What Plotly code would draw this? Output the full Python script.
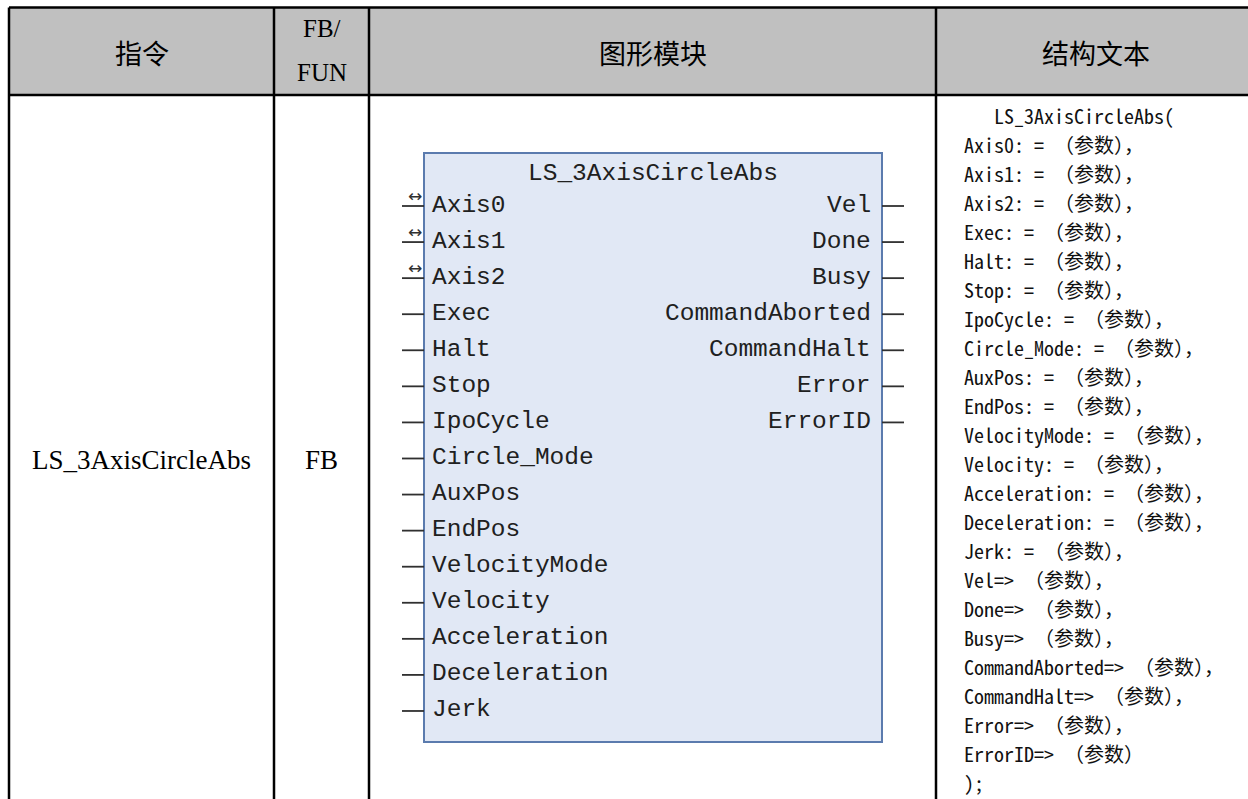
import plotly.graph_objects as go

# ---------------- data ----------------
header_labels = ["指令", "FB/", "FUN", "图形模块", "结构文本"]
instruction_name = "LS_3AxisCircleAbs"
instruction_type = "FB"
block_title = "LS_3AxisCircleAbs"
input_pins = ["Axis0", "Axis1", "Axis2", "Exec", "Halt", "Stop", "IpoCycle",
              "Circle_Mode", "AuxPos", "EndPos", "VelocityMode", "Velocity",
              "Acceleration", "Deceleration", "Jerk"]
inout_pins = ["Axis0", "Axis1", "Axis2"]
output_pins = ["Vel", "Done", "Busy", "CommandAborted", "CommandHalt", "Error", "ErrorID"]
param_word = "（参数）"

# ---------------- layout constants ----------------
W, H = 1248, 799
col_x = [9, 274, 369, 936, 1256]
top_y, head_y = 7.5, 95
box = dict(x0=424, x1=882, y0=153, y1=742)
pin_y0, pin_dy = 205, 36.07
st_x, st_x_first, st_y0, st_dy = 962, 992, 115, 29.04

CJK_HEAD = "Noto Sans CJK SC"
SERIF = "Liberation Serif"
MONO = "Liberation Mono"
ST_FONT = "Noto Sans Mono CJK SC, Liberation Mono, Noto Sans CJK SC"

fig = go.Figure()
shapes = []
ann = []

# header background
shapes.append(dict(type="rect", x0=col_x[0], x1=W + 20, y0=top_y, y1=head_y,
                   fillcolor="#C0C0C0", line=dict(width=0), layer="below"))
# table lines
shapes.append(dict(type="line", x0=col_x[0], x1=W + 20, y0=top_y, y1=top_y,
                   line=dict(color="black", width=2.5)))
shapes.append(dict(type="line", x0=col_x[0], x1=W + 20, y0=head_y, y1=head_y,
                   line=dict(color="black", width=2.5)))
for cx in col_x:
    shapes.append(dict(type="line", x0=cx, x1=cx, y0=top_y, y1=H + 20,
                       line=dict(color="black", width=2.5)))

# header texts
centers = [(col_x[i] + col_x[i + 1]) / 2 for i in range(4)]
ann.append(dict(x=centers[0], y=52, text=header_labels[0], xanchor="center", yanchor="middle",
                font=dict(family=CJK_HEAD, size=27, color="black")))
ann.append(dict(x=centers[1], y=28, text=header_labels[1], xanchor="center", yanchor="middle",
                font=dict(family=SERIF, size=25, color="black")))
ann.append(dict(x=centers[1], y=72, text=header_labels[2], xanchor="center", yanchor="middle",
                font=dict(family=SERIF, size=25, color="black")))
ann.append(dict(x=centers[2], y=52, text=header_labels[3], xanchor="center", yanchor="middle",
                font=dict(family=CJK_HEAD, size=27, color="black")))
ann.append(dict(x=1096, y=52, text=header_labels[4], xanchor="center", yanchor="middle",
                font=dict(family=CJK_HEAD, size=27, color="black")))

# body cells
ann.append(dict(x=centers[0], y=460, text=instruction_name, xanchor="center", yanchor="middle",
                font=dict(family=SERIF, size=27, color="black")))
ann.append(dict(x=centers[1], y=460, text=instruction_type, xanchor="center", yanchor="middle",
                font=dict(family=SERIF, size=27, color="black")))

# function block
shapes.append(dict(type="rect", fillcolor="#E1E8F5", line=dict(color="#5B7BAE", width=2), **box))
ann.append(dict(x=(box["x0"] + box["x1"]) / 2, y=173, text=block_title, xanchor="center",
                yanchor="middle", font=dict(family=MONO, size=24.5, color="#202020")))
for i, name in enumerate(input_pins):
    y = pin_y0 + pin_dy * i
    shapes.append(dict(type="line", x0=box["x0"] - 22, x1=box["x0"], y0=y + 1, y1=y + 1,
                       line=dict(color="#303030", width=1.8)))
    if name in inout_pins:
        ann.append(dict(x=box["x0"] - 9, y=y - 9, text="↔", xanchor="center", yanchor="middle",
                        font=dict(family="DejaVu Sans", size=17, color="#303030")))
    ann.append(dict(x=box["x0"] + 6, y=y, text=name, xanchor="left", yanchor="middle",
                    font=dict(family=MONO, size=24.5, color="#202020")))
for i, name in enumerate(output_pins):
    y = pin_y0 + pin_dy * i
    shapes.append(dict(type="line", x0=box["x1"], x1=box["x1"] + 22, y0=y + 1, y1=y + 1,
                       line=dict(color="#303030", width=1.8)))
    ann.append(dict(x=box["x1"] - 9, y=y, text=name, xanchor="right", yanchor="middle",
                    font=dict(family=MONO, size=24.5, color="#202020")))

# structured text
st_lines = [block_title + "("]
for name in input_pins:
    st_lines.append(f"{name}: = {param_word}，")
for j, name in enumerate(output_pins):
    tail = "，" if j < len(output_pins) - 1 else ""
    st_lines.append(f"{name}=> {param_word}{tail}")
st_lines.append(");")
for k, line in enumerate(st_lines):
    ann.append(dict(x=st_x_first if k == 0 else st_x, y=st_y0 + st_dy * k, text=line,
                    xanchor="left", yanchor="middle",
                    font=dict(family=ST_FONT, size=20, color="#111111")))

for a in ann:
    a.update(xref="x", yref="y", showarrow=False)

fig.update_layout(
    width=W, height=H, margin=dict(l=0, r=0, t=0, b=0),
    paper_bgcolor="white", plot_bgcolor="white",
    xaxis=dict(range=[0, W], visible=False, fixedrange=True),
    yaxis=dict(range=[H, 0], visible=False, fixedrange=True),
    shapes=shapes, annotations=ann, showlegend=False,
)
fig.write_html("out.html", post_script="document.body.style.margin='0';",
               config={"displayModeBar": False})
